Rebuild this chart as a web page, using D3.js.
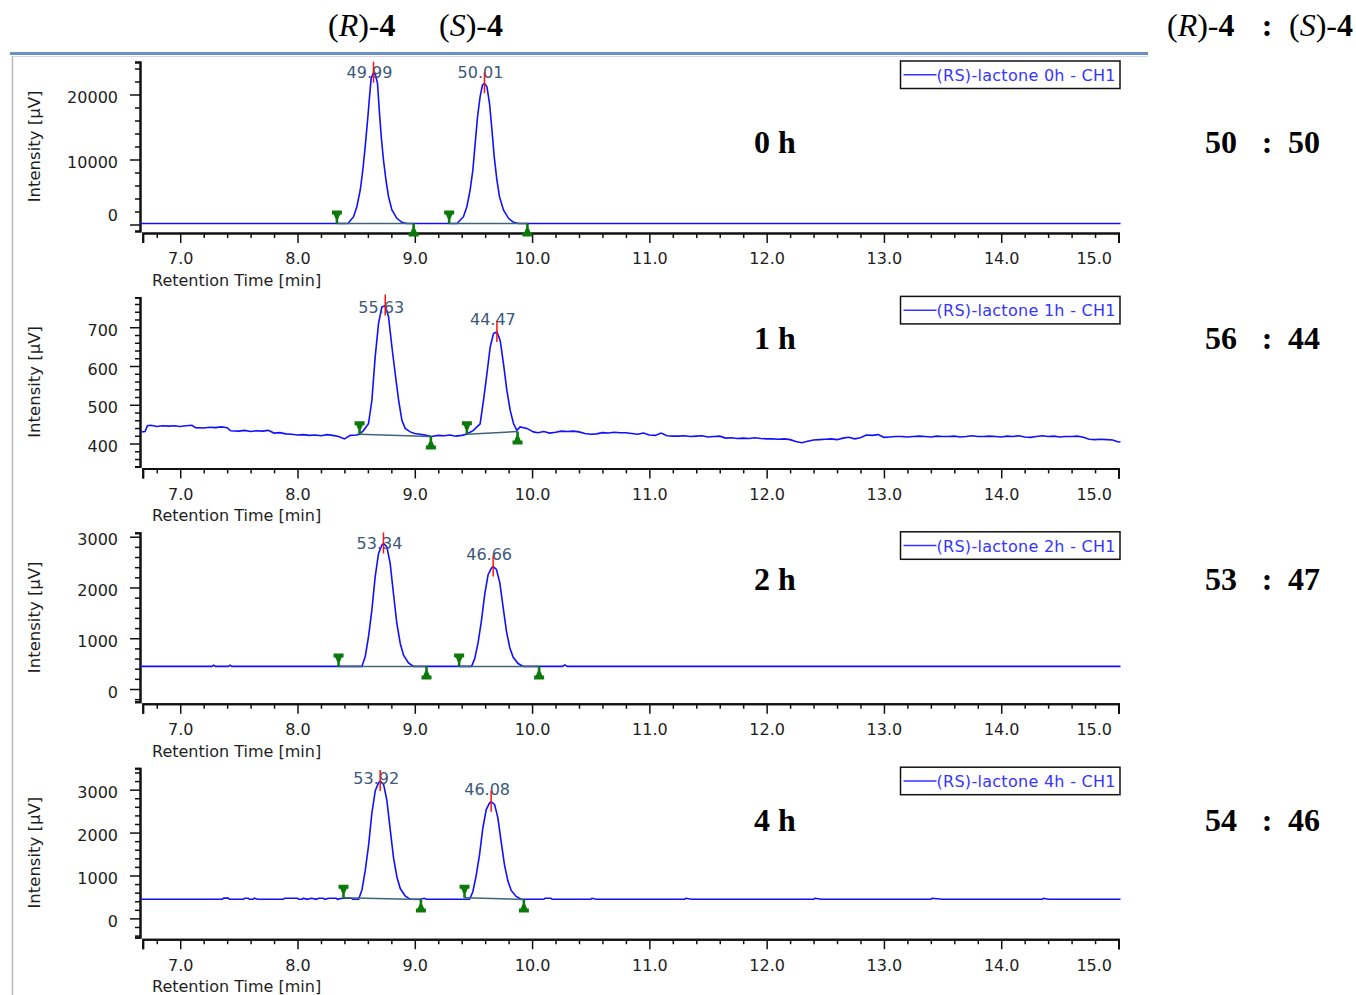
<!DOCTYPE html>
<html>
<head>
<meta charset="utf-8">
<script src="https://cdn.jsdelivr.net/npm/d3@7"></script>
<style>
  html, body { margin: 0; padding: 0; background: #fff; }
  svg { display: block; }
</style>
</head>
<body>
<svg id="chart" width="1356" height="995"></svg>
<script>
// ---------------- data ----------------
const runNames   = ["0h", "1h", "2h", "4h"];
const runLabels  = ["0 h", "1 h", "2 h", "4 h"];
const ratioR     = ["50", "56", "53", "54"];
const ratioS     = ["50", "44", "47", "46"];
const xTickValues = [7, 8, 9, 10, 11, 12, 13, 14, 15];
const yDomains    = [[-1000, 25000], [341, 777], [-252, 3077], [-438, 3500]];
const yMajorTicks = [[0, 10000, 20000], [400, 500, 600, 700], [0, 1000, 2000, 3000], [0, 1000, 2000, 3000]];
const yMinorStep  = [2000, 20, 200, 200];

// chromatogram traces: [retention time (min), intensity (µV)]
const trace0h = [
  [6.66,150],[8.43,150],[8.478,1200],[8.506,2740],[8.535,5310],[8.557,8380],[8.577,11970],[8.600,16580],
  [8.614,19660],[8.628,22490],[8.648,23350],[8.665,23000],[8.682,21720],[8.697,17620],[8.714,13510],
  [8.733,9920],[8.754,6850],[8.776,4280],[8.805,2230],[8.847,950],[8.890,340],[8.933,150],
  [9.36,150],[9.415,1200],[9.444,2740],[9.472,5310],[9.495,8380],[9.515,12490],[9.535,16580],[9.557,19660],
  [9.577,21460],[9.594,21720],[9.615,21200],[9.637,18650],[9.658,14540],[9.677,10430],[9.700,6850],
  [9.722,4280],[9.756,2230],[9.799,950],[9.842,340],[9.884,150],[15.03,150]
];
const trace1h = [
  [6.66,430],[6.70,431],[6.72,446],[6.75,447],[6.80,444],[6.85,446],[6.90,445],[6.95,446],[7.00,444],
  [7.05,446],[7.10,447],[7.13,441],[7.20,440],[7.25,442],[7.30,441],[7.35,443],[7.40,441],[7.43,433],
  [7.50,432],[7.55,434],[7.60,431],[7.65,433],[7.70,432],[7.75,434],[7.80,427],[7.85,428],[7.90,425],
  [7.95,424],[8.00,422],[8.05,423],[8.10,421],[8.15,422],[8.20,420],[8.25,423],[8.30,421],[8.35,418],
  [8.40,412],[8.45,421],[8.50,422],[8.53,424],[8.563,434],[8.605,451],[8.634,511],[8.662,623],[8.691,710],
  [8.719,752],[8.748,756],[8.776,727],[8.805,649],[8.833,580],[8.862,512],[8.890,460],[8.918,439],
  [8.961,430],[9.00,426],[9.046,424],[9.10,421],[9.14,418],[9.20,421],[9.25,420],[9.30,422],[9.35,419],
  [9.40,421],[9.44,424],[9.500,434],[9.557,451],[9.586,512],[9.615,580],[9.643,649],[9.671,684],
  [9.700,688],[9.728,666],[9.756,606],[9.785,537],[9.813,486],[9.842,451],[9.870,434],[9.898,443],
  [9.955,439],[10.012,430],[10.05,428],[10.10,431],[10.15,427],[10.20,429],[10.25,432],[10.30,431],
  [10.35,432],[10.40,430],[10.45,426],[10.50,424],[10.55,425],[10.60,428],[10.65,427],[10.70,429],
  [10.75,428],[10.80,428],[10.85,426],[10.90,424],[10.95,427],[11.00,422],[11.05,421],[11.10,427],
  [11.15,420],[11.20,419],[11.25,419],[11.30,420],[11.35,418],[11.40,419],[11.45,420],[11.50,417],
  [11.55,418],[11.60,419],[11.65,414],[11.70,415],[11.75,413],[11.80,414],[11.85,413],[11.90,415],
  [11.95,413],[12.00,412],[12.05,412],[12.10,411],[12.15,412],[12.20,410],[12.25,405],[12.30,402],
  [12.35,406],[12.40,409],[12.45,410],[12.50,411],[12.55,412],[12.60,410],[12.65,414],[12.70,416],
  [12.75,412],[12.80,415],[12.85,422],[12.90,421],[12.95,423],[13.00,416],[13.05,417],[13.10,418],
  [13.15,418],[13.20,417],[13.25,418],[13.30,419],[13.35,418],[13.40,417],[13.45,419],[13.50,418],
  [13.55,418],[13.60,419],[13.65,417],[13.70,418],[13.75,420],[13.80,418],[13.85,418],[13.90,419],
  [13.95,418],[14.00,417],[14.05,419],[14.10,418],[14.15,420],[14.20,417],[14.25,416],[14.30,418],
  [14.35,420],[14.40,418],[14.45,419],[14.50,417],[14.55,418],[14.60,418],[14.65,419],[14.70,416],
  [14.75,411],[14.80,410],[14.85,411],[14.90,410],[14.95,409],[15.00,404],[15.03,405]
];
const trace2h = [
  [6.66,445],[7.27,445],[7.285,470],[7.30,445],[7.41,445],[7.425,470],[7.44,445],
  [8.549,445],[8.577,633],[8.605,1027],[8.634,1553],[8.662,2209],[8.691,2670],[8.719,2833],[8.733,2867],
  [8.762,2800],[8.790,2473],[8.818,1882],[8.847,1291],[8.876,897],[8.904,666],[8.946,515],[8.989,445],
  [9.484,445],[9.511,598],[9.540,917],[9.568,1344],[9.597,1877],[9.625,2253],[9.654,2384],[9.668,2412],
  [9.696,2357],[9.725,2091],[9.753,1611],[9.782,1131],[9.810,813],[9.839,624],[9.881,502],[9.924,445],
  [10.26,445],[10.28,475],[10.30,445],[15.03,445]
];
const trace4h = [
  [6.66,445],[7.36,445],[7.37,472],[7.41,472],[7.42,445],[7.54,445],[7.55,470],[7.58,470],[7.59,445],
  [7.62,445],[7.63,470],[7.66,445],[7.88,445],[7.89,470],[8.00,470],[8.01,445],[8.04,445],[8.05,470],
  [8.08,445],[8.12,470],[8.16,445],[8.18,470],[8.22,470],[8.23,445],[8.27,470],[8.33,470],[8.34,445],
  [8.38,470],[8.46,470],[8.47,445],
  [8.521,445],[8.549,660],[8.577,1106],[8.606,1704],[8.634,2451],[8.663,2977],[8.691,3161],[8.705,3200],
  [8.734,3123],[8.762,2751],[8.790,2079],[8.819,1406],[8.848,960],[8.876,696],[8.918,525],[8.961,445],
  [9.05,445],[9.08,470],[9.10,445],
  [9.467,445],[9.495,622],[9.523,991],[9.552,1485],[9.580,2101],[9.609,2536],[9.637,2688],[9.651,2720],
  [9.680,2656],[9.708,2349],[9.736,1794],[9.765,1239],[9.794,870],[9.822,652],[9.864,511],[9.907,445],
  [10.10,445],[10.11,470],[10.16,470],[10.17,445],[10.50,445],[10.51,468],[10.55,445],[11.30,445],
  [11.31,468],[11.36,445],[12.40,445],[12.41,468],[12.47,445],[13.40,445],[13.41,468],[13.50,445],
  [14.35,445],[14.36,468],[14.40,445],[15.03,445]
];

// integrated peaks: apex time/height, area %, baseline start and end [t, µV]
const peaks0h = [
  { t: 8.648, v: 23350, area: "49.99", start: [8.336, 150], end: [8.99, 150] },
  { t: 9.594, v: 21720, area: "50.01", start: [9.293, 150], end: [9.96, 150] }
];
const peaks1h = [
  { t: 8.748, v: 756, area: "55.63", start: [8.529, 424], end: [9.137, 418] },
  { t: 9.700, v: 688, area: "44.47", start: [9.444, 424], end: [9.876, 431] }
];
const peaks2h = [
  { t: 8.733, v: 2867, area: "53.34", start: [8.35, 445], end: [9.10, 445] },
  { t: 9.668, v: 2412, area: "46.66", start: [9.378, 445], end: [10.06, 445] }
];
const peaks4h = [
  { t: 8.705, v: 3200, area: "53.92", start: [8.392, 480], end: [9.052, 440] },
  { t: 9.651, v: 2720, area: "46.08", start: [9.424, 480], end: [9.93, 440] }
];

const traces = [trace0h, trace1h, trace2h, trace4h];
const peaks  = [peaks0h, peaks1h, peaks2h, peaks4h];

// ---------------- layout ----------------
const SANS  = "'DejaVu Sans', Verdana, sans-serif";
const SERIF = "'Liberation Serif', 'Times New Roman', serif";
const L = {
  axisX: 140, x0: 142.7, x1: 1118.5,
  top0: 62, step: 235.4, plotH: 169,
  legendX: 900.5, legendW: 219.5, legendH: 27.5,
  rowBaselines: [153, 349, 590, 831]
};
const TRACE = "#1010ff", BASE = "#3d6479", GREEN = "#0b7a0b", LABEL = "#3b587a";

const svg = d3.select("#chart");

// window frame
svg.append("rect").attr("x", 10).attr("y", 52).attr("width", 1138).attr("height", 3).attr("fill", "#6990c6");
svg.append("line").attr("x1", 12).attr("x2", 1148).attr("y1", 56.5).attr("y2", 56.5).attr("stroke", "#d5d9df");
svg.append("line").attr("x1", 12.5).attr("x2", 12.5).attr("y1", 56).attr("y2", 995).attr("stroke", "#b9b9b9").attr("stroke-width", 1.5);

const x = d3.scaleLinear().domain([6.68, 15.0]).range([L.x0, L.x1]);

svg.append("defs").append("clipPath").attr("id", "plotclip")
  .append("rect").attr("x", 138).attr("y", 0).attr("width", L.x1 + 2 - 138).attr("height", 995);

// peak start (above baseline) and end (below baseline) pins
const startMarker = "M-5,-13H5V-9H3.2L1.3,-4.5V0H-1.3V-4.5L-3.2,-9H-5Z";
const endMarker   = "M-5,13H5V9H3.2L1.3,4.5V0H-1.3V4.5L-3.2,9H-5Z";

traces.forEach((trace, i) => {
  const top = L.top0 + i * L.step;
  const bottom = top + L.plotH;
  const y = d3.scaleLinear().domain(yDomains[i]).range([bottom, top]);
  const g = svg.append("g");

  // y axis: minor then major ticks
  const minor = d3.range(Math.ceil(yDomains[i][0] / yMinorStep[i]) * yMinorStep[i], yDomains[i][1], yMinorStep[i])
    .filter(v => !yMajorTicks[i].includes(v));
  const yMinor = g.append("g").attr("transform", `translate(${L.axisX},0)`)
    .call(d3.axisLeft(y).tickValues(minor).tickSize(5).tickSizeOuter(5).tickFormat(""));
  const yAx = g.append("g").attr("transform", `translate(${L.axisX},0)`)
    .call(d3.axisLeft(y).tickValues(yMajorTicks[i]).tickSize(10).tickSizeOuter(5).tickPadding(12).tickFormat(d3.format("d")));
  yAx.selectAll(".tick text").each(function (d) {
    let cy = y(d) + 3;
    if (cy + 7 > bottom) cy = bottom - 16;
    d3.select(this).attr("transform", `translate(0,${cy - y(d)})`);
  });

  // x axis
  const xb = bottom + 2;
  const xMinor = d3.range(6.8, 15.0, 0.2).filter(v => Math.abs(v - Math.round(v)) > 0.01);
  const xMin = g.append("g").attr("transform", `translate(0,${xb})`)
    .call(d3.axisBottom(x).tickValues(xMinor).tickSize(5).tickSizeOuter(10).tickFormat(""));
  const xAx = g.append("g").attr("transform", `translate(0,${xb})`)
    .call(d3.axisBottom(x).tickValues(xTickValues).tickSize(10).tickSizeOuter(10).tickPadding(10).tickFormat(d3.format(".1f")));
  xAx.selectAll(".tick text").filter(d => d === 15).attr("text-anchor", "end").attr("x", -7);

  [yMinor, yAx, xMin, xAx].forEach(a => {
    a.selectAll("text").attr("font-family", SANS).attr("font-size", 16).attr("fill", "#1e1e1e");
    a.selectAll(".tick line").attr("stroke", "#111").attr("stroke-width", 1.5);
    a.select(".domain").attr("stroke", "#111").attr("stroke-width", 2);
  });

  // axis titles
  g.append("text").attr("x", 152).attr("y", xb + 53)
    .attr("font-family", SANS).attr("font-size", 16).attr("fill", "#1e1e1e")
    .text("Retention Time [min]");
  g.append("text").attr("transform", `translate(40,${(top + bottom) / 2}) rotate(-90)`)
    .attr("text-anchor", "middle")
    .attr("font-family", SANS).attr("font-size", 16.5).attr("fill", "#1e1e1e")
    .text("Intensity [µV]");

  // trace
  const line = d3.line().x(d => x(d[0])).y(d => y(d[1]));
  g.append("path").datum(trace).attr("d", line)
    .attr("fill", "none").attr("stroke", TRACE).attr("stroke-width", 1.6)
    .attr("clip-path", "url(#plotclip)");

  // peak baselines, markers, apex ticks and area labels
  peaks[i].forEach(p => {
    g.append("line")
      .attr("x1", x(p.start[0])).attr("y1", y(p.start[1]))
      .attr("x2", x(p.end[0])).attr("y2", y(p.end[1]))
      .attr("stroke", BASE).attr("stroke-width", 1.5);
    g.append("path").attr("d", startMarker).attr("fill", GREEN)
      .attr("transform", `translate(${x(p.start[0])},${y(p.start[1])})`);
    g.append("path").attr("d", endMarker).attr("fill", GREEN)
      .attr("transform", `translate(${x(p.end[0])},${y(p.end[1])})`);
    const ax = x(p.t), ay = y(p.v);
    g.append("text").attr("x", ax - 4).attr("y", Math.max(ay - 7, top + 16))
      .attr("text-anchor", "middle")
      .attr("font-family", SANS).attr("font-size", 16).attr("fill", LABEL)
      .text(p.area);
    g.append("line").attr("x1", ax).attr("x2", ax).attr("y1", ay - 11).attr("y2", ay + 10)
      .attr("stroke", "#ff1010").attr("stroke-width", 1.5);
  });

  // legend
  const ly = top - 1;
  g.append("rect").attr("x", L.legendX).attr("y", ly).attr("width", L.legendW).attr("height", L.legendH)
    .attr("fill", "#fff").attr("stroke", "#111").attr("stroke-width", 1.5);
  g.append("line").attr("x1", L.legendX + 3).attr("x2", L.legendX + 36)
    .attr("y1", ly + L.legendH / 2).attr("y2", ly + L.legendH / 2)
    .attr("stroke", "#3535ff").attr("stroke-width", 1.5);
  g.append("text").attr("x", L.legendX + 36).attr("y", ly + L.legendH / 2 + 6)
    .attr("font-family", SANS).attr("font-size", 16).attr("fill", "#3535ff")
    .attr("textLength", 179).attr("lengthAdjust", "spacing")
    .text(`(RS)-lactone ${runNames[i]} - CH1`);

  // run time and enantiomer ratio
  const by = L.rowBaselines[i];
  const tf = svg.append("g").attr("font-family", SERIF).attr("font-size", 32).attr("font-weight", "bold").attr("fill", "#000");
  tf.append("text").attr("x", 754).attr("y", by).text(runLabels[i]);
  tf.append("text").attr("x", 1205).attr("y", by).text(ratioR[i]);
  tf.append("text").attr("x", 1267).attr("y", by).attr("text-anchor", "middle").text(":");
  tf.append("text").attr("x", 1288).attr("y", by).text(ratioS[i]);
});

// enantiomer headers
function enantiomer(sel, xPos, letter) {
  const t = sel.append("text").attr("x", xPos).attr("y", 36)
    .attr("font-family", SERIF).attr("font-size", 32).attr("fill", "#000");
  t.append("tspan").text("(");
  t.append("tspan").attr("font-style", "italic").text(letter);
  t.append("tspan").text(")-");
  t.append("tspan").attr("font-weight", "bold").text("4");
}
enantiomer(svg, 328, "R");
enantiomer(svg, 439, "S");
enantiomer(svg, 1167, "R");
svg.append("text").attr("x", 1267).attr("y", 36).attr("text-anchor", "middle")
  .attr("font-family", SERIF).attr("font-size", 32).attr("font-weight", "bold").text(":");
enantiomer(svg, 1289, "S");
</script>
</body>
</html>
